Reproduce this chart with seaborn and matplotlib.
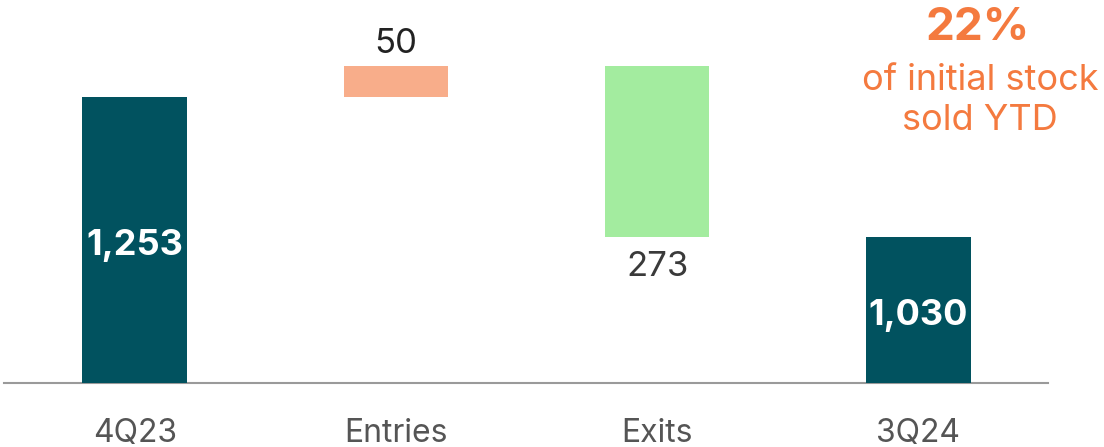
import numpy as np
import pandas as pd
import matplotlib
matplotlib.use("Agg")
import matplotlib.pyplot as plt
import seaborn as sns

categories = ["4Q23", "Entries", "Exits", "3Q24"]
values = [1253, 50, -273, 1030]
is_total = [True, False, False, True]
value_labels = ["1,253", "50", "273", "1,030"]
bar_colors = ["#01525F", "#F8AD8A", "#A3EC9F", "#01525F"]

# waterfall geometry from the values
tops, bottoms = [], []
running = 0
for v, tot in zip(values, is_total):
    if tot:
        bottoms.append(0)
        tops.append(v)
        running = v
    else:
        lo, hi = sorted([running, running + v])
        bottoms.append(lo)
        tops.append(hi)
        running += v
heights = [t - b for t, b in zip(tops, bottoms)]

df = pd.DataFrame({"cat": categories, "height": heights})

sns.set_theme(style="white")
plt.rcParams["font.family"] = ["Inter", "DejaVu Sans"]

fig = plt.figure(figsize=(11.04, 4.47), dpi=100)
ax = fig.add_axes([4 / 1104, 64 / 447, 1044 / 1104, 383 / 447])

sns.barplot(data=df, x="cat", y="height", order=categories, width=0.40,
            bottom=bottoms, ax=ax, zorder=3, saturation=1, linewidth=0,
            color=bar_colors[0])
for patch, c in zip(ax.patches, bar_colors):
    patch.set_facecolor(c)

ymin = 796
ax.set_ylim(ymin, ymin + 383 / 0.625)
ax.set_xlim(-0.5, 3.496)

for s in ["top", "right", "left"]:
    ax.spines[s].set_visible(False)
ax.spines["bottom"].set_color("#9a9a9a")
ax.spines["bottom"].set_linewidth(1.5)
ax.set_yticks([])
ax.set_xlabel("")
ax.set_ylabel("")
ax.tick_params(axis="x", length=0, pad=25, labelsize=23, labelcolor="#555555")

for i, (lab, tot) in enumerate(zip(value_labels, is_total)):
    if tot:
        mid = (max(bottoms[i], ymin) + tops[i]) / 2 - 9
        ax.text(i, mid, lab, ha="center", va="center", color="white",
                fontsize=26, fontweight="bold", zorder=4)
    elif values[i] > 0:
        ax.text(i, tops[i] + 10, lab, ha="center", va="bottom",
                color="#222222", fontsize=25)
    else:
        ax.text(i, bottoms[i] - 22, lab, ha="center", va="top",
                color="#3a3a3a", fontsize=25)

fig.text(978 / 1104, 1 - 28 / 447, "22%", ha="center", va="center",
         color="#F47A3F", fontsize=33, fontweight="bold")
fig.text(980 / 1104, 1 - 80 / 447, "of initial stock", ha="center",
         va="center", color="#F47A3F", fontsize=26)
fig.text(980 / 1104, 1 - 120 / 447, "sold YTD", ha="center",
         va="center", color="#F47A3F", fontsize=26)

fig.savefig("out.png", dpi=100)
